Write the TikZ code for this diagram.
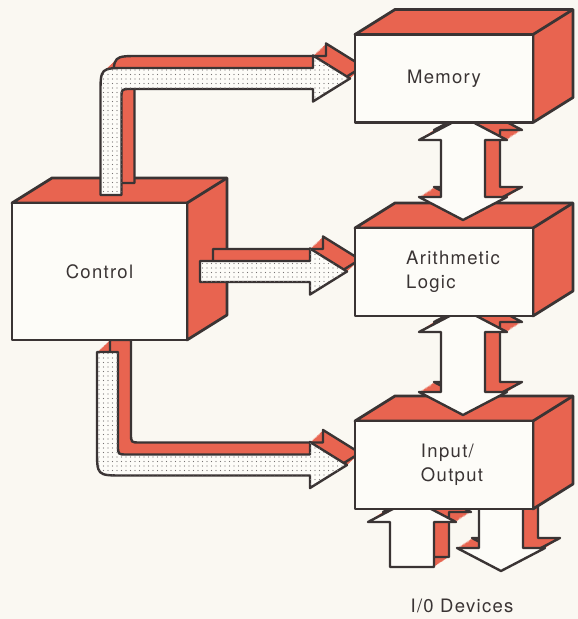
\documentclass[tikz,border=0pt]{standalone}
\usepackage{fontspec}
\newfontfamily\labelfont[LetterSpace=7]{TeX Gyre Heros}
\usetikzlibrary{calc,patterns.meta}
\definecolor{brick}{RGB}{232,100,80}
\definecolor{ink}{RGB}{58,52,52}
\definecolor{paper}{RGB}{250,248,242}
\definecolor{facewhite}{RGB}{253,252,248}
\tikzset{
  boxframe/.style={rectangle, minimum width=178pt, minimum height=88pt, inner sep=0pt, outer sep=0pt},
  boxfront/.style={fill=facewhite, draw=ink, line width=2.8pt, line join=round},
  boxside/.style={fill=brick, draw=ink, line width=2.8pt, line join=round},
  boxlabel/.style={font={\labelfont\fontsize{18.5pt}{24pt}\selectfont}, text=ink, align=left},
  arrowside/.style={fill=brick},
  arrowedge/.style={draw=ink, line width=2.4pt, line join=round},
  plainface/.style={fill=facewhite, draw=ink, line width=2.4pt, line join=round},
  dotface/.style={plainface, postaction={pattern={Dots[distance=4.5pt, radius=0.6pt]}, pattern color=ink!70}},
}
\newcommand\bendpath[3]{let \p1=(#1), \p2=(#2) in
  ({\x1-\aw},\y1) -- ({\x1-\aw},{\y2-(#3)*(\ar-\aw)})
  .. controls ({\x1-\aw},{\y2+(#3)*\aw}) .. ({\x1-\aw+\ar},{\y2+(#3)*\aw})
  -- ({\x2-\hl},{\y2+(#3)*\aw}) -- ({\x2-\hl},{\y2+(#3)*\hh}) -- (\x2,\y2)
  -- ({\x2-\hl},{\y2-(#3)*\hh}) -- ({\x2-\hl},{\y2-(#3)*\aw}) -- ({\x1+\aw+\ri},{\y2-(#3)*\aw})
  .. controls ({\x1+\aw},{\y2-(#3)*\aw}) .. ({\x1+\aw},{\y2-(#3)*(\aw+\ri)})
  -- ({\x1+\aw},\y1) -- cycle}
\newcommand\hpath[2]{let \p1=(#1), \p2=(#2) in
  (\x1,{\y1+\aw}) -- ({\x2-\hl},{\y1+\aw}) -- ({\x2-\hl},{\y1+\hh}) -- (\x2,\y1)
  -- ({\x2-\hl},{\y1-\hh}) -- ({\x2-\hl},{\y1-\aw}) -- (\x1,{\y1-\aw}) -- cycle}
\newcommand\vpath[3]{let \p1=(#1), \p2=(#2) in
  ({\x1-\aw},\y1) -- ({\x1-\aw},{\y2-(#3)*\hl}) -- ({\x1-\hh},{\y2-(#3)*\hl}) -- (\x1,\y2)
  -- ({\x1+\hh},{\y2-(#3)*\hl}) -- ({\x1+\aw},{\y2-(#3)*\hl}) -- ({\x1+\aw},\y1) -- cycle}
\newcommand\dpath[2]{let \p1=(#1), \p2=(#2) in
  (\x1,\y1) -- ({\x1+\hh},{\y1-\hl}) -- ({\x1+\aw},{\y1-\hl}) -- ({\x1+\aw},{\y2+\hl})
  -- ({\x1+\hh},{\y2+\hl}) -- (\x1,\y2) -- ({\x1-\hh},{\y2+\hl}) -- ({\x1-\aw},{\y2+\hl})
  -- ({\x1-\aw},{\y1-\hl}) -- ({\x1-\hh},{\y1-\hl}) -- cycle}
\newcommand\raisedarrow[4]{%
  \foreach \s in {1,...,14}{\fill[arrowside, transform canvas={shift={({#2*\s/14},{#3*\s/14})}}] #1;}
  \draw[arrowedge, transform canvas={shift={(#2,#3)}}] #1;
  \draw[#4] #1;}
\newcommand\drawcube[1]{%
  \draw[boxside] (#1.north west) -- ++(\bx,\by) -- ([shift={(\bx,\by)}]#1.north east)
    -- ([shift={(\bx,\by)}]#1.south east) -- (#1.south east) -- (#1.north east) -- cycle;
  \draw[boxside] (#1.north east) -- ++(\bx,\by);
  \draw[boxfront] (#1.south west) rectangle (#1.north east);}
\def\bx{40}
\def\by{25}

\begin{document}
\begin{tikzpicture}[x=1pt, y=1pt]
\useasboundingbox (0,0) rectangle (578,619);
\fill[paper] (0,0) rectangle (578,619);
\path node[boxframe, minimum width=175pt, minimum height=137pt] (control) at (99.5,347.5) {};
\path node[boxframe] (memory) at (444,540.5) {};
\path node[boxframe] (arith) at (444,347) {};
\path node[boxframe] (inout) at (444,154) {};
\def\aw{10.5}\def\hh{23}\def\hl{37}\def\ar{26}\def\ri{9}
\raisedarrow{\bendpath{[shift={(8,-12)}]control.south}{[xshift=-8]inout.west}{-1}}{13}{12}{dotface}
\drawcube{control}
\raisedarrow{\bendpath{[shift={(11.5,8)}]control.north}{[xshift=-5]memory.west}{1}}{13}{12}{dotface}
\raisedarrow{\hpath{[xshift=13]control.east}{[xshift=-8]arith.west}}{13}{12}{dotface}
\def\aw{22}\def\hh{44}\def\hl{23}
\raisedarrow{\vpath{[shift={(-32,-58)}]inout.south}{[shift={(-32,10)}]inout.south}{1}}{15}{10}{plainface}
\raisedarrow{\vpath{[shift={(57,4)}]inout.south}{[shift={(57,-62)}]inout.south}{-1}}{15}{10}{plainface}
\drawcube{inout}
\raisedarrow{\dpath{[shift={(19,7)}]arith.south}{[shift={(19,6)}]inout.north}}{15}{10}{plainface}
\drawcube{arith}
\raisedarrow{\dpath{[shift={(19,5.5)}]memory.south}{[shift={(19,8)}]arith.north}}{15}{10}{plainface}
\drawcube{memory}
\node[boxlabel] (controltext) at (control) {Control};
\node[boxlabel] (memorytext) at (memory) {Memory};
\node[boxlabel] (arithtext) at ([xshift=9]arith.center) {Arithmetic\\Logic};
\node[boxlabel] (inouttext) at ([xshift=8]inout.center) {Input/\\Output};
\node[boxlabel] (devicetext) at (462,13) {I/0 Devices};
\end{tikzpicture}
\end{document}
